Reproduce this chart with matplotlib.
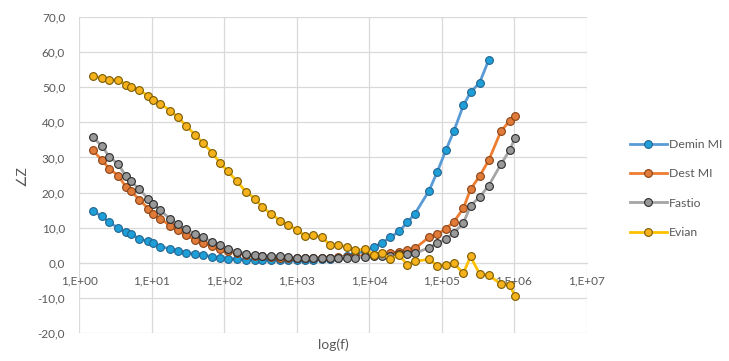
import numpy as np
import matplotlib.pyplot as plt
from matplotlib.ticker import FixedLocator, FuncFormatter

plt.rcParams['font.family'] = ['Lato', 'DejaVu Sans']

# frecuencias de medida (Hz)
freq = [1.55, 2.06, 2.62, 3.48, 4.45, 5.21, 6.79, 9.04, 10.6, 13.2,
        18.2, 23.0, 30.2, 40.2, 51.8, 68.2, 88.1, 113.5, 149.6, 201,
        268, 337, 445, 592, 764, 1007, 1321, 1714, 2259, 2944,
        3776, 4920, 6353, 8872, 11610, 14960, 19680, 26120, 33730, 43050,
        67300, 87500, 114600, 148600, 200000, 251200, 335700, 448700, 657700, 869000,
        1026000]

nan = np.nan
demin_mi = [14.8, 13.2, 11.5, 9.9, 8.7, 8.2, 6.8, 6.1, 5.6, 4.6,
            4.0, 3.4, 2.9, 2.6, 2.3, 1.7, 1.5, 1.2, 1.1, 0.9,
            0.9, 0.8, 0.8, 0.8, 0.8, 0.8, 0.9, 0.9, 1.0, 1.2,
            1.5, 2.0, 2.6, 3.3, 4.4, 5.7, 7.2, 9.0, 11.5, 14.0,
            20.5, 25.9, 32.0, 37.6, 44.8, 48.5, 51.3, 57.8, nan, nan,
            nan]
dest_mi = [32.0, 29.3, 26.8, 24.8, 21.6, 20.4, 18.0, 15.4, 13.9, 12.5,
           10.6, 9.2, 7.8, 6.5, 5.5, 4.8, 4.0, 3.3, 2.8, 2.3,
           2.0, 1.8, 1.6, 1.5, 1.4, 1.3, 1.3, 1.3, 1.4, 1.5,
           1.6, 1.7, 1.9, 2.0, 2.2, 2.4, 2.8, 3.2, 3.5, 4.1,
           7.3, 8.1, 9.7, 11.7, 15.5, 20.9, 24.7, 29.2, 37.4, 40.4,
           41.8]
fastio = [35.8, 33.3, 30.2, 28.1, 24.6, 23.2, 20.9, 18.2, 16.8, 15.0,
          12.4, 11.1, 9.5, 8.3, 7.2, 6.0, 5.0, 4.0, 3.2, 2.6,
          2.3, 2.0, 2.0, 2.0, 1.6, 1.4, 1.3, 1.3, 1.3, 1.4,
          1.4, 1.5, 1.5, 1.6, 1.8, 1.9, 2.0, 2.4, 2.6, 2.7,
          4.3, 5.6, 6.8, 8.6, 11.2, 16.3, 18.7, 22.0, 28.0, 32.0,
          35.4]
evian = [53.2, 52.6, 52.1, 52.1, 50.7, 50.2, 49.2, 47.5, 46.4, 45.3,
         43.3, 41.5, 39.0, 36.4, 34.0, 31.4, 28.5, 26.0, 23.3, 20.2,
         18.3, 15.8, 14.0, 12.0, 10.9, 9.4, 7.6, 7.9, 7.2, 5.0,
         5.0, 4.6, 3.5, 3.9, 2.3, 2.7, 1.2, 2.1, -0.5, 0.4,
         1.0, -0.8, -0.5, -0.2, -3.0, 1.8, -3.2, -3.6, -6.0, -6.2,
         -9.4]

series = [
    ('Demin MI', demin_mi, '#5b9bd5', '#1e9fd8', '#23648f'),
    ('Dest MI', dest_mi, '#ed7d31', '#e07b39', '#8a4215'),
    ('Fastio', fastio, '#a5a5a5', '#999999', '#2b2b2b'),
    ('Evian', evian, '#ffc000', '#f5b21c', '#7a5a00'),
]

fig = plt.figure(figsize=(7.29, 3.61), dpi=100)
ax = fig.add_axes([79 / 729, 1 - 333 / 361, (586.5 - 79) / 729, (333 - 17) / 361])

lines = []
for name, vals, lc, fc, ec in series:
    ln, = ax.plot(freq, vals, color=lc, lw=2.0, marker='o', ms=5.6,
                  mfc=fc, mec=ec, mew=0.8, label=name, zorder=3)
    lines.append(ln)

ax.set_xscale('log')
ax.set_xlim(1, 1e7)
ax.set_ylim(-20, 70)
ax.xaxis.set_major_locator(FixedLocator([10.0 ** k for k in range(8)]))
ax.xaxis.set_minor_locator(FixedLocator([]))
ax.xaxis.set_major_formatter(FuncFormatter(lambda v, p: '1,E+%02d' % round(np.log10(v))))
ax.set_yticks(np.arange(-20, 71, 10))
ax.yaxis.set_major_formatter(FuncFormatter(lambda v, p: ('%.1f' % v).replace('.', ',')))

ax.grid(True, color='#d9d9d9', lw=0.9, zorder=0)
for s in ['top', 'right', 'left']:
    ax.spines[s].set_visible(False)
ax.spines['bottom'].set_position(('data', 0))
ax.spines['bottom'].set_color('#d9d9d9')
ax.tick_params(axis='both', length=0, labelsize=8.5, labelcolor='#595959')
ax.tick_params(axis='x', pad=9)
ax.tick_params(axis='y', pad=10)

fig.text(333 / 729, 1 - 345 / 361, 'log(f)', ha='center', va='center',
         fontsize=10, color='#595959')
fig.text(22 / 729, 1 - 176 / 361, '∠Z', ha='center', va='center', rotation=90,
         fontsize=10, color='#595959')

fig.legend(handles=lines, loc='upper left', bbox_to_anchor=(630 / 729, 1 - 139 / 361),
           frameon=False, fontsize=8.8, labelcolor='#595959', handlelength=3.0,
           handletextpad=0.2, labelspacing=1.5, borderpad=0, borderaxespad=0)

fig.savefig('out.png', dpi=100)
